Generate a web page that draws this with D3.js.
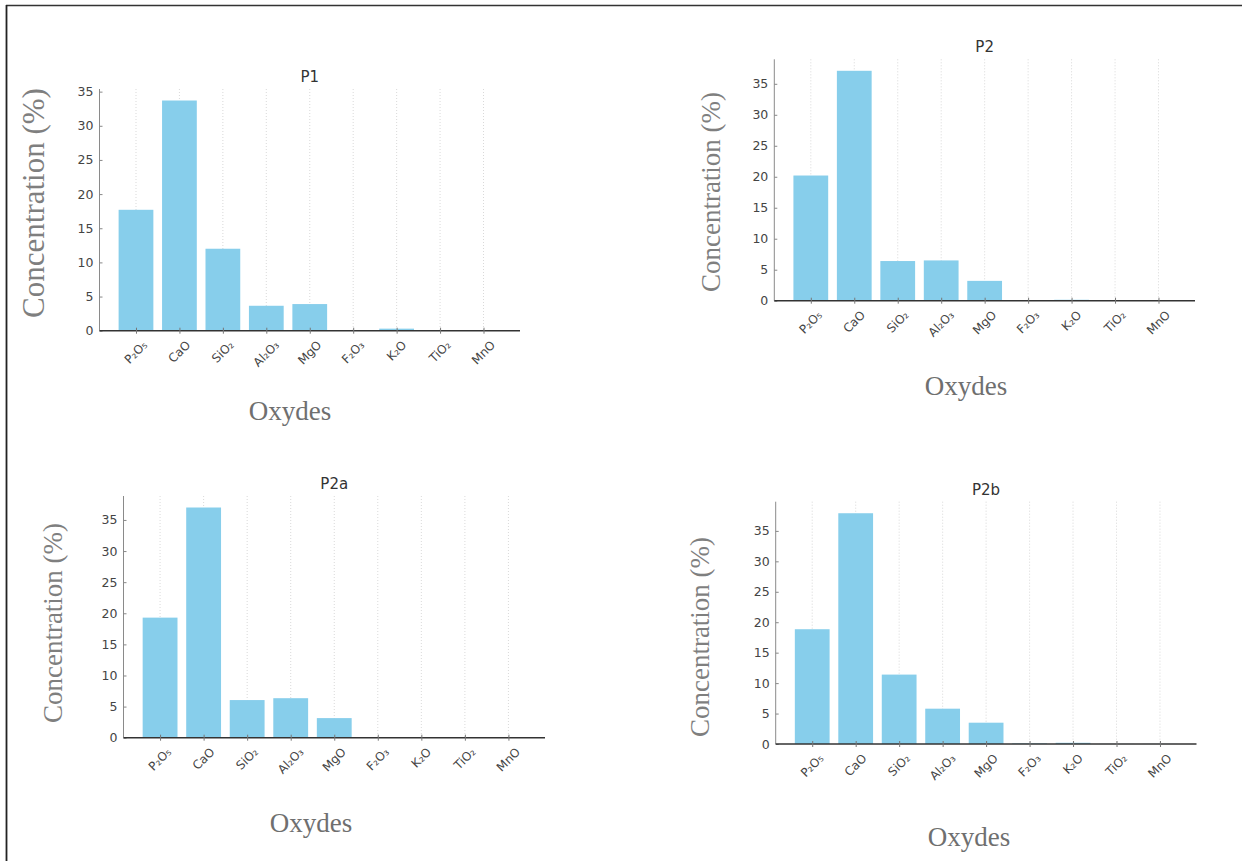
<!DOCTYPE html>
<html>
<head>
<meta charset="utf-8">
<script src="https://cdn.jsdelivr.net/npm/d3@7"></script>
<style>
  html, body { margin: 0; padding: 0; background: #fff; }
  svg { display: block; }
</style>
</head>
<body>
<svg id="chart" width="1242" height="861"></svg>
<script>
// ---------------- DATA ----------------
const categories = ["P₂O₅", "CaO", "SiO₂", "Al₂O₃", "MgO", "F₂O₃", "K₂O", "TiO₂", "MnO"];
const panelTitles = ["P1", "P2", "P2a", "P2b"];
const valuesP1  = [17.7, 33.7, 12.0, 3.65, 3.9, 0.1, 0.3, 0.02, 0.02];
const valuesP2  = [20.2, 37.1, 6.4, 6.5, 3.2, 0.05, 0.15, 0.02, 0.02];
const valuesP2a = [19.3, 37.0, 6.05, 6.35, 3.15, 0.1, 0.1, 0.02, 0.02];
const valuesP2b = [18.85, 37.9, 11.4, 5.8, 3.5, 0.1, 0.2, 0.02, 0.02];
const yTickValues = [0, 5, 10, 15, 20, 25, 30, 35];
const yLabelText = "Concentration (%)";
const xLabelText = "Oxydes";

// ---------------- LAYOUT ----------------
const panels = [
  { title: panelTitles[0], values: valuesP1,  left: 99.5,  right: 520,   top: 89,    bottom: 330.7, ylab: [33, 203, 31],  xlab: [290, 411] },
  { title: panelTitles[1], values: valuesP2,  left: 774.3, right: 1195,  top: 59.3,  bottom: 300.7, ylab: [711, 192, 27], xlab: [966, 386] },
  { title: panelTitles[2], values: valuesP2a, left: 123.5, right: 545,   top: 496,   bottom: 737.7, ylab: [53, 623, 27],  xlab: [311, 823] },
  { title: panelTitles[3], values: valuesP2b, left: 775.7, right: 1196.5,top: 501.7, bottom: 744,   ylab: [700, 637, 27], xlab: [969, 837] }
];

const svg = d3.select("#chart");
const barColor = "#87CEEB";

// frame
svg.append("line").attr("x1", 6).attr("x2", 1242).attr("y1", 5.5).attr("y2", 5.5)
  .attr("stroke", "#333").attr("stroke-width", 1.5);
svg.append("line").attr("x1", 6.5).attr("x2", 6.5).attr("y1", 5).attr("y2", 861)
  .attr("stroke", "#222").attr("stroke-width", 1.8);

panels.forEach(p => {
  const g = svg.append("g");
  const n = categories.length;
  const x = d3.scaleLinear().domain([-0.84, n - 1 + 0.84]).range([p.left, p.right]);
  const ymax = d3.max(p.values) * 1.05;
  const y = d3.scaleLinear().domain([0, ymax]).range([p.bottom, p.top]);

  // vertical grid (dotted)
  g.selectAll("line.grid").data(categories).join("line")
    .attr("class", "grid")
    .attr("x1", (d, i) => x(i)).attr("x2", (d, i) => x(i))
    .attr("y1", p.top).attr("y2", p.bottom)
    .attr("stroke", "#cfcfcf").attr("stroke-width", 0.8)
    .attr("stroke-dasharray", "1,2");

  // bars
  g.selectAll("rect.bar").data(p.values).join("rect")
    .attr("class", "bar")
    .attr("x", (d, i) => x(i - 0.4))
    .attr("width", (d, i) => x(i + 0.4) - x(i - 0.4))
    .attr("y", d => y(d))
    .attr("height", d => y(0) - y(d))
    .attr("fill", barColor);

  // y axis
  const yAxis = d3.axisLeft(y).tickValues(yTickValues).tickSizeInner(-3).tickSizeOuter(0).tickPadding(6);
  const ya = g.append("g").attr("transform", `translate(${p.left},0)`).call(yAxis);
  ya.select(".domain").attr("stroke", "#8a8a8a").attr("stroke-width", 1)
    .attr("d", `M0,${p.bottom}V${p.top}`);
  ya.selectAll(".tick line").attr("stroke", "#888");
  ya.selectAll(".tick text").attr("fill", "#444")
    .style("font-family", "DejaVu Sans, sans-serif").style("font-size", "12.5px");

  // x axis
  const xAxis = d3.axisBottom(x).tickValues(d3.range(n)).tickSizeInner(-3).tickSizeOuter(0).tickFormat(() => "");
  const xa = g.append("g").attr("transform", `translate(0,${p.bottom})`).call(xAxis);
  xa.select(".domain").attr("stroke", "#333").attr("stroke-width", 1.6)
    .attr("d", `M${p.left},0H${p.right}`);
  xa.selectAll(".tick line").attr("stroke", "#777").attr("y1", 3).attr("y2", -3);

  // rotated x tick labels
  const angle = 45;
  const rad = angle * Math.PI / 180;
  const fs = 12;
  g.selectAll("text.xlab").data(categories).join("text")
    .attr("class", "xlab")
    .text(d => d)
    .attr("fill", "#444")
    .style("font-family", "DejaVu Sans, sans-serif")
    .style("font-size", fs + "px")
    .attr("text-anchor", "middle")
    .attr("dominant-baseline", "central")
    .each(function (d, i) {
      const w = this.getComputedTextLength();
      const h = w * Math.sin(rad) + fs * Math.cos(rad);
      const cy = p.bottom + 8 + h / 2;
      d3.select(this).attr("transform", `translate(${x(i)},${cy}) rotate(${-angle})`);
    });

  // title
  g.append("text").text(p.title)
    .attr("x", (p.left + p.right) / 2).attr("y", p.top - 12)
    .attr("text-anchor", "middle").attr("dominant-baseline", "central")
    .attr("fill", "#333")
    .style("font-family", "DejaVu Sans, sans-serif").style("font-size", "15px");

  // y label
  g.append("text").text(yLabelText)
    .attr("transform", `translate(${p.ylab[0]},${p.ylab[1]}) rotate(-90)`)
    .attr("text-anchor", "middle").attr("dominant-baseline", "central")
    .attr("fill", "#7f7f7f")
    .style("font-family", "Liberation Serif, Times New Roman, serif").style("font-size", p.ylab[2] + "px");

  // x label
  g.append("text").text(xLabelText)
    .attr("x", p.xlab[0]).attr("y", p.xlab[1])
    .attr("text-anchor", "middle").attr("dominant-baseline", "central")
    .attr("fill", "#6f6f6f")
    .style("font-family", "Liberation Serif, Times New Roman, serif").style("font-size", "27px");
});
</script>
</body>
</html>
